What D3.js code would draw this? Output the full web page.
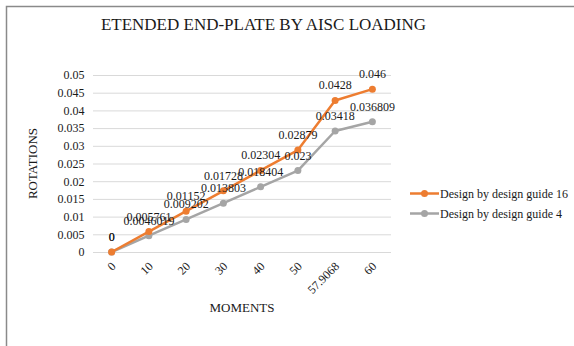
<!DOCTYPE html>
<html lang="en">

<head>
    <meta charset="UTF-8">
    <title>ETENDED END-PLATE BY AISC LOADING</title>
    <script src="https://d3js.org/d3.v7.min.js"></script>
    <style>
        body {
            margin: 0;
            padding: 0;
            background: #fff;
            font-family: "Liberation Serif", "Times New Roman", serif;
        }

        svg {
            display: block;
        }
    </style>
</head>

<body>
    <svg class="chart"></svg>

    <script>
        const moments = ["0", "10", "20", "30", "40", "50", "57.9068", "60"];
        const guide16 = [0, 0.005761, 0.01152, 0.01728, 0.02304, 0.02879, 0.0428, 0.046];
        const guide4 = [0, 0.0046019, 0.009202, 0.013803, 0.018404, 0.023, 0.03418, 0.036809];
        const guide16Labels = ["0", "0.005761", "0.01152", "0.01728", "0.02304", "0.02879", "0.0428", "0.046"];
        const guide4Labels = ["0", "0.0046019", "0.009202", "0.013803", "0.018404", "0.023", "0.03418", "0.036809"];
        const yTicks = [0, 0.005, 0.01, 0.015, 0.02, 0.025, 0.03, 0.035, 0.04, 0.045, 0.05];
        const yTickLabels = ["0", "0.005", "0.01", "0.015", "0.02", "0.025", "0.03", "0.035", "0.04", "0.045", "0.05"];

        const series = [
            { name: "Design by design guide 16", values: guide16, labels: guide16Labels, color: "#ED7D31" },
            { name: "Design by design guide 4", values: guide4, labels: guide4Labels, color: "#A5A5A5" }
        ];

        const width = 574;
        const height = 346;
        const plotLeft = 93, plotRight = 391, plotTop = 75, plotBottom = 252;

        const svg = d3.select(".chart")
            .attr("width", width)
            .attr("height", height);

        // chart frame
        svg.append("rect")
            .attr("x", 6.5)
            .attr("y", 6.5)
            .attr("width", 600)
            .attr("height", 400)
            .attr("fill", "#fff")
            .attr("stroke", "#8a8a8a")
            .attr("stroke-width", 1.5);

        const x = d3.scaleBand()
            .domain(moments)
            .range([plotLeft, plotRight]);

        const y = d3.scaleLinear()
            .domain([0, 0.05])
            .range([plotBottom, plotTop]);

        const cx = d => x(d) + x.bandwidth() / 2;

        // title
        svg.append("text")
            .attr("x", 263.5)
            .attr("y", 30)
            .attr("text-anchor", "middle")
            .style("font-size", "17px")
            .style("fill", "#1a1a1a")
            .text("ETENDED END-PLATE BY AISC LOADING");

        // grid + y labels
        const yAxis = d3.axisLeft(y)
            .tickValues(yTicks)
            .tickSize(-(plotRight - plotLeft))
            .tickPadding(8.5)
            .tickFormat((d, i) => yTickLabels[i]);

        const gy = svg.append("g")
            .attr("transform", `translate(${plotLeft},0)`)
            .call(yAxis);
        gy.select(".domain").remove();
        gy.selectAll(".tick line").attr("stroke", "#d9d9d9").attr("stroke-width", 1);
        gy.selectAll(".tick text")
            .style("font-family", "Liberation Serif, serif")
            .style("font-size", "12px")
            .style("fill", "#1a1a1a");

        // x labels, rotated
        const xAxis = d3.axisBottom(x).tickSize(0).tickPadding(0);
        const gx = svg.append("g")
            .attr("transform", `translate(0,${plotBottom})`)
            .call(xAxis);
        gx.select(".domain").remove();
        gx.selectAll(".tick text")
            .attr("x", 2)
            .attr("y", 12)
            .attr("dy", "0.35em")
            .attr("text-anchor", "end")
            .attr("transform", "rotate(-45,2,12)")
            .style("font-family", "Liberation Serif, serif")
            .style("font-size", "12px")
            .style("fill", "#1a1a1a");

        // axis titles
        svg.append("text")
            .attr("transform", `translate(37,${(plotTop + plotBottom) / 2}) rotate(-90)`)
            .attr("text-anchor", "middle")
            .style("font-size", "13px")
            .style("fill", "#1a1a1a")
            .text("ROTATIONS");

        svg.append("text")
            .attr("x", (plotLeft + plotRight) / 2)
            .attr("y", 312)
            .attr("text-anchor", "middle")
            .style("font-size", "13px")
            .style("fill", "#1a1a1a")
            .text("MOMENTS");

        const line = d3.line()
            .x((d, i) => cx(moments[i]))
            .y(d => y(d));

        // draw gray first so orange sits on top
        series.slice().reverse().forEach(s => {
            svg.append("path")
                .datum(s.values)
                .attr("fill", "none")
                .attr("stroke", s.color)
                .attr("stroke-width", 2.5)
                .attr("stroke-linejoin", "round")
                .attr("d", line);

            svg.selectAll(null)
                .data(s.values)
                .enter()
                .append("circle")
                .attr("cx", (d, i) => cx(moments[i]))
                .attr("cy", d => y(d))
                .attr("r", 3.5)
                .attr("fill", s.color);
        });

        // data labels
        series.slice().reverse().forEach(s => {
            svg.selectAll(null)
                .data(s.values)
                .enter()
                .append("text")
                .attr("x", (d, i) => cx(moments[i]))
                .attr("y", d => y(d) - 11)
                .attr("text-anchor", "middle")
                .style("font-size", "12px")
                .style("fill", "#1a1a1a")
                .text((d, i) => s.labels[i]);
        });

        // legend
        const legend = svg.append("g");
        series.forEach((s, i) => {
            const ly = 193.5 + i * 20;
            legend.append("line")
                .attr("x1", 410).attr("x2", 439)
                .attr("y1", ly).attr("y2", ly)
                .attr("stroke", s.color)
                .attr("stroke-width", 2.5);
            legend.append("circle")
                .attr("cx", 424.5).attr("cy", ly)
                .attr("r", 3.5)
                .attr("fill", s.color);
            legend.append("text")
                .attr("x", 440)
                .attr("y", ly + 4)
                .style("font-size", "12px")
                .style("fill", "#1a1a1a")
                .text(s.name);
        });
    </script>
</body>

</html>
